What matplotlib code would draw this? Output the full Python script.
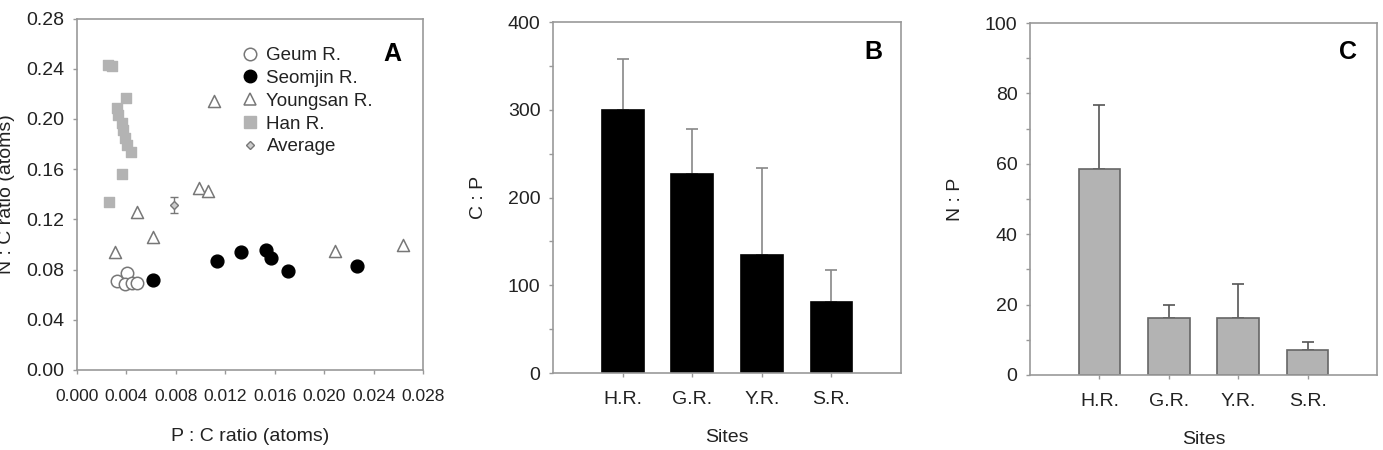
import matplotlib
matplotlib.use("Agg")
import matplotlib.pyplot as plt
from matplotlib.lines import Line2D
import numpy as np

plt.rcParams['font.family'] = ['Liberation Sans', 'DejaVu Sans']

# Panel A: N:C vs P:C (atoms)
geum_pc = [0.00326, 0.00402, 0.00391, 0.00443, 0.00488]
geum_nc = [0.0712, 0.0770, 0.0683, 0.0691, 0.0691]
seomjin_pc = [0.00616, 0.0113, 0.0133, 0.01527, 0.01568, 0.0171, 0.02265]
seomjin_nc = [0.0716, 0.0867, 0.0942, 0.0955, 0.0889, 0.0790, 0.0830]
youngsan_pc = [0.00305, 0.00486, 0.00616, 0.0111, 0.00989, 0.01062, 0.02084, 0.02638]
youngsan_nc = [0.0942, 0.1260, 0.1061, 0.2143, 0.1451, 0.1424, 0.0950, 0.0995]
han_pc = [0.00253, 0.00281, 0.00394, 0.00321, 0.00334, 0.00362, 0.00375, 0.00388,
          0.00402, 0.00434, 0.00362, 0.00261]
han_nc = [0.2430, 0.2420, 0.2165, 0.2085, 0.2030, 0.1966, 0.1910, 0.1846,
          0.1790, 0.1740, 0.1560, 0.1336]
avg_pc = [0.00784]
avg_nc = [0.1313]
avg_err = [0.0062]

# Panels B and C
sites = ['H.R.', 'G.R.', 'Y.R.', 'S.R.']
cp_mean = [299.5, 226.4, 134.2, 81.1]
cp_err = [58.0, 51.5, 99.0, 36.1]
np_mean = [58.6, 16.1, 16.3, 7.1]
np_err = [18.0, 3.7, 9.5, 2.4]

FS = 14
TXT = '#222222'
SPINE = '#999999'

fig = plt.figure(figsize=(13.83, 4.5), dpi=100)
axA = fig.add_axes([0.0557, 0.1778, 0.2502, 0.781])
axB = fig.add_axes([0.3999, 0.1711, 0.2516, 0.780])
axC = fig.add_axes([0.7448, 0.1667, 0.2509, 0.782])


def style_axes(ax):
    for s in ax.spines.values():
        s.set_color(SPINE)
        s.set_linewidth(1.2)
    ax.tick_params(which='both', direction='out', color=SPINE, width=1.0,
                   length=3, labelsize=FS, labelcolor=TXT)


# ---- Panel A ----
axA.scatter(geum_pc, geum_nc, s=80, facecolors='white', edgecolors='#777777',
            linewidths=1.1, zorder=3)
axA.scatter(seomjin_pc, seomjin_nc, s=85, color='black', zorder=3)
axA.scatter(youngsan_pc, youngsan_nc, s=75, marker='^', facecolors='white',
            edgecolors='#777777', linewidths=1.1, zorder=3)
axA.scatter(han_pc, han_nc, s=60, marker='s', color='#b3b3b3', zorder=2)
axA.errorbar(avg_pc, avg_nc, yerr=avg_err, fmt='D', ms=4.5, mfc='#cccccc', mec='#777777',
             mew=1.0, ecolor='#777777', elinewidth=1.0, capsize=3, zorder=4)

axA.set_xlim(0, 0.028)
axA.set_ylim(0, 0.28)
xt = np.arange(0, 0.0281, 0.004)
yt = np.arange(0, 0.281, 0.04)
axA.set_xticks(xt)
axA.set_yticks(yt)
axA.set_xticklabels([f'{v:.3f}' for v in xt])
axA.set_yticklabels([f'{v:.2f}' for v in yt])
style_axes(axA)
axA.tick_params(axis='x', pad=11, labelsize=12.5)
axA.tick_params(axis='y', pad=6)
axA.set_xlabel('P : C ratio (atoms)', fontsize=FS, color=TXT, labelpad=17)
axA.set_ylabel('N : C ratio (atoms)', fontsize=FS, color=TXT)
axA.yaxis.set_label_coords(-0.178, 0.5)
axA.text(0.91, 0.90, 'A', transform=axA.transAxes, fontsize=18, fontweight='bold',
         ha='center', va='center')

handles = [
    Line2D([], [], ls='none', marker='o', ms=9, mfc='white', mec='#777777', mew=1.1),
    Line2D([], [], ls='none', marker='o', ms=9, mfc='black', mec='black'),
    Line2D([], [], ls='none', marker='^', ms=9, mfc='white', mec='#777777', mew=1.1),
    Line2D([], [], ls='none', marker='s', ms=8, mfc='#b3b3b3', mec='#b3b3b3'),
    Line2D([], [], ls='none', marker='D', ms=4.5, mfc='#cccccc', mec='#777777'),
]
labels = ['Geum R.', 'Seomjin R.', 'Youngsan R.', 'Han R.', 'Average']
axA.legend(handles, labels, loc='upper left', bbox_to_anchor=(0.45, 0.94), frameon=False,
           fontsize=FS - 0.5, handletextpad=0.4, labelspacing=0.3,
           borderaxespad=0, handlelength=1.0, labelcolor=TXT)

# ---- Panels B and C ----
x = np.arange(1, len(sites) + 1)


def bar_panel(ax, vals, errs, fc, ec, ecol, ymax, major, label, letter, lx, ly):
    ax.bar(x, vals, width=0.6, color=fc, edgecolor=ec, linewidth=1.2, zorder=2)
    ax.errorbar(x, vals, yerr=[np.zeros(len(vals)), errs], fmt='none', ecolor=ecol,
                elinewidth=1.2, capsize=4, capthick=1.2, zorder=1)
    ax.set_xlim(0, 5)
    ax.set_ylim(0, ymax)
    ax.set_xticks(x)
    ax.set_xticklabels(sites)
    ax.set_yticks(np.arange(0, ymax + 0.1, major))
    ax.set_yticks(np.arange(major / 2, ymax, major), minor=True)
    style_axes(ax)
    ax.tick_params(axis='x', pad=10)
    ax.tick_params(axis='y', pad=6)
    ax.set_xlabel('Sites', fontsize=FS, color=TXT, labelpad=15)
    ax.set_ylabel(label, fontsize=FS, color=TXT)
    ax.yaxis.set_label_coords(-0.19, 0.5)
    ax.text(lx, ly, letter, transform=ax.transAxes, fontsize=18, fontweight='bold',
            ha='center', va='center')


bar_panel(axB, cp_mean, cp_err, 'black', 'black', '#888888', 400, 100, 'C : P', 'B', 0.92, 0.915)
bar_panel(axC, np_mean, np_err, '#b3b3b3', '#666666', '#555555', 100, 20, 'N : P', 'C', 0.916, 0.918)

fig.savefig('out.png', dpi=100)
